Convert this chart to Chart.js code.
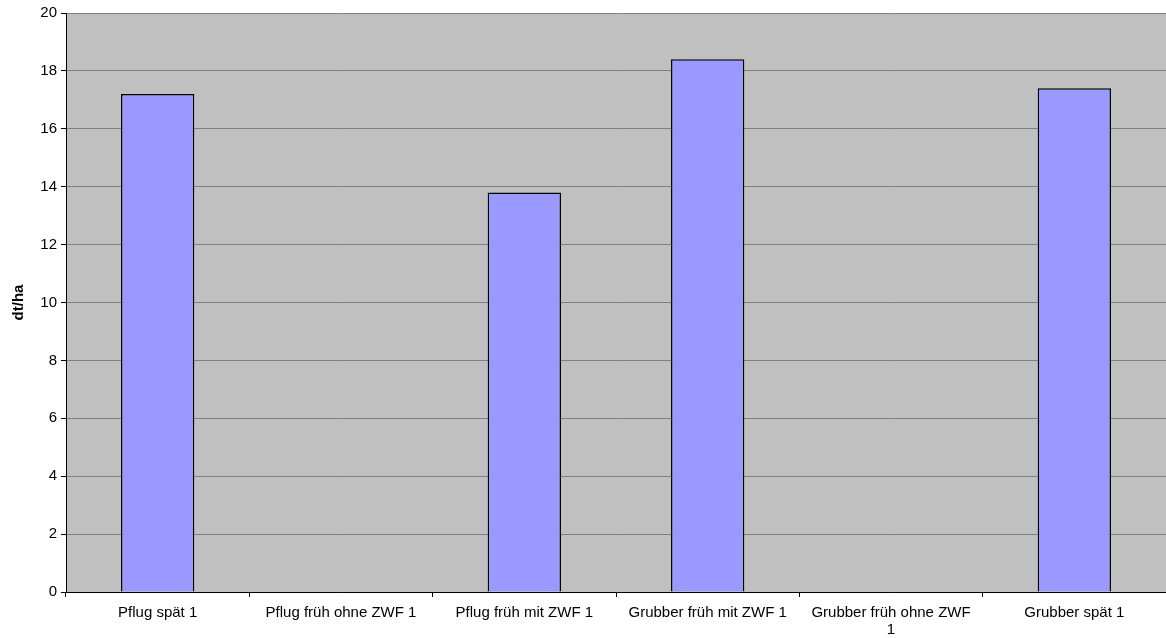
<!DOCTYPE html>
<html lang="de">
  <head>
    <meta charset="UTF-8" />
    <title>Ertrag</title>
    <script src="https://cdn.jsdelivr.net/npm/chart.js@4"></script>
    <style>
      html, body { margin: 0; padding: 0; background: #fff; }
      #wrap { width: 1166px; height: 638px; }
    </style>
  </head>
  <body>
    <div id="wrap"><canvas id="ertrag"></canvas></div>
    <script>
      var kategorien = [
        "Pflug spät 1",
        "Pflug früh ohne ZWF 1",
        "Pflug früh mit ZWF 1",
        "Grubber früh mit ZWF 1",
        ["Grubber früh ohne ZWF", "1"],
        "Grubber spät 1",
      ];
      var ertrag = [17.2, null, 13.8, 18.4, null, 17.4];
      var yTicks = [0, 2, 4, 6, 8, 10, 12, 14, 16, 18, 20];

      // grauer Hintergrund der Zeichenfläche
      var plotBg = {
        id: "plotBg",
        beforeDraw: function (chart) {
          var a = chart.chartArea;
          var c = chart.ctx;
          c.save();
          c.fillStyle = "#c0c0c0";
          c.fillRect(a.left, a.top, a.right - a.left, a.bottom - a.top);
          c.restore();
        },
      };

      Chart.defaults.font.family = "'Liberation Sans', Arial, sans-serif";
      Chart.defaults.font.size = 15;
      Chart.defaults.color = "#000";

      new Chart(document.getElementById("ertrag").getContext("2d"), {
        type: "bar",
        data: {
          labels: kategorien,
          datasets: [
            {
              data: ertrag,
              backgroundColor: "#9999ff",
              borderColor: "#000",
              borderWidth: 1.5,
              barPercentage: 0.4,
              categoryPercentage: 1,
            },
          ],
        },
        options: {
          responsive: true,
          maintainAspectRatio: false,
          animation: false,
          layout: { padding: { top: 13, right: 0, left: 0, bottom: 0 } },
          plugins: {
            legend: { display: false },
            tooltip: { enabled: false },
          },
          scales: {
            x: {
              afterFit: function (s) { s.height = 46; },
              grid: {
                offset: true,
                drawOnChartArea: false,
                drawTicks: true,
                tickLength: 5,
                tickColor: "#000",
              },
              border: { color: "#000", width: 1 },
              ticks: {
                maxRotation: 0,
                autoSkip: false,
                padding: 8,
                font: { size: 15, lineHeight: 1.1 },
              },
            },
            y: {
              min: 0,
              max: 20,
              afterFit: function (s) { s.width = 66; },
              afterBuildTicks: function (s) {
                s.ticks = yTicks.map(function (v) { return { value: v }; });
              },
              grid: {
                color: "#808080",
                tickColor: "#000",
                tickLength: 5,
              },
              border: { color: "#000", width: 1 },
              ticks: { padding: 4 },
              title: {
                display: true,
                text: "dt/ha",
                font: { weight: "bold", size: 15 },
                padding: { top: 10, bottom: 0 },
              },
            },
          },
        },
        plugins: [plotBg],
      });
    </script>
  </body>
</html>
